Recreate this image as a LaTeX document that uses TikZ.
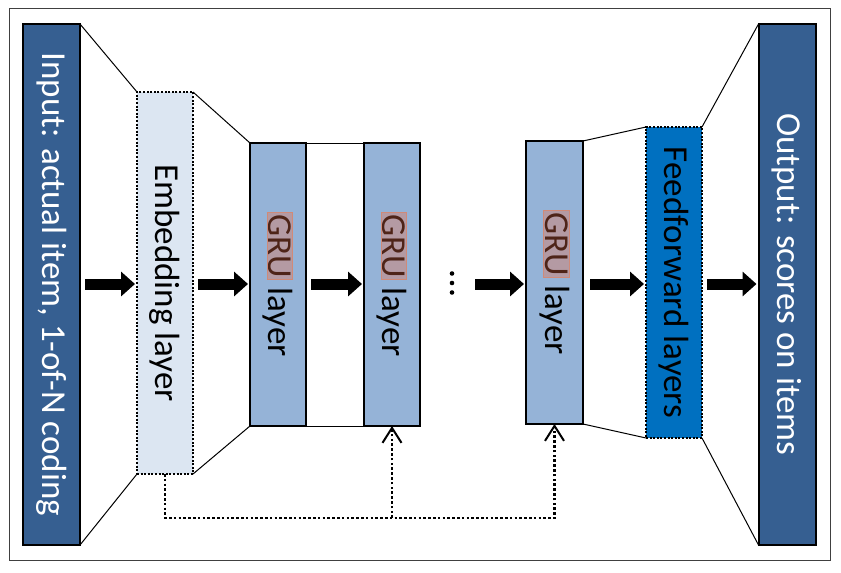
\documentclass[tikz,border=0pt]{standalone}
\usepackage{fontspec}
\setmainfont{Carlito}
\usetikzlibrary{arrows.meta}
\definecolor{iodark}{HTML}{365F91}
\definecolor{embfill}{HTML}{DCE6F2}
\definecolor{grufill}{HTML}{95B3D7}
\definecolor{fffill}{HTML}{0070C0}
\definecolor{hlfill}{HTML}{B49AA3}
\definecolor{hlborder}{HTML}{D08A78}
\definecolor{hltext}{HTML}{4E2418}
\setlength{\fboxsep}{1pt}
\setlength{\fboxrule}{0.8pt}
\newcommand{\gruword}{\fcolorbox{hlborder}{hlfill}{\textcolor{hltext}{GRU}}}
\begin{document}
\begin{tikzpicture}[x=1pt,y=-1pt,
  bar/.style={draw, line width=2pt, inner sep=0pt, outer sep=0pt, minimum width=56pt, font=\fontsize{35}{40}\selectfont},
  dotbar/.style={bar, line width=2pt, dash pattern=on 2pt off 1.6pt},
  blockarrow/.style={line width=11pt, -{Triangle[length=14pt,width=24pt]}, shorten <=5pt, shorten >=2pt},
  feed/.style={line width=2.6pt, dash pattern=on 2.6pt off 2.2pt},
  fan/.style={line width=1pt}]
\useasboundingbox (0,0) rectangle (841,573);
\draw[line width=1pt, black!75] (9,8) rectangle (830,560);

\node[bar, fill=iodark, text=white, minimum width=57pt, minimum height=521pt] (inp) at (51.5,284.5) {\rotatebox{-90}{Input: actual item, 1-of-N coding}};
\node[dotbar, fill=embfill, minimum height=382pt] (emb) at (165,283) {\rotatebox{-90}{Embedding layer}};
\node[bar, fill=grufill, minimum height=283pt] (gruA) at (278,284.5) {\rotatebox{-90}{\gruword{} layer}};
\node[bar, fill=grufill, minimum height=283pt] (gruB) at (392,284.5) {\rotatebox{-90}{\gruword{} layer}};
\node[bar, fill=grufill, minimum width=57pt, minimum height=283pt] (gruC) at (554.5,282.5) {\rotatebox{-90}{\gruword{} layer}};
\node[dotbar, fill=fffill, minimum height=311pt] (ff) at (674,282.5) {\rotatebox{-90}{Feedforward layers}};
\node[bar, fill=iodark, text=white, minimum width=57pt, minimum height=521pt] (out) at (787,284.5) {\rotatebox{-90}{Output: scores on items}};

\draw[fan] (inp.north east) -- (emb.north west);
\draw[fan] (inp.south east) -- (emb.south west);
\draw[fan] (emb.north east) -- (gruA.north west);
\draw[fan] (emb.south east) -- (gruA.south west);
\draw[fan] (gruA.north east) -- (gruB.north west);
\draw[fan] (gruA.south east) -- (gruB.south west);
\draw[fan] (gruC.north east) -- (ff.north west);
\draw[fan] (gruC.south east) -- (ff.south west);
\draw[fan] (ff.north east) -- (out.north west);
\draw[fan] (ff.south east) -- (out.south west);

\coordinate (ay) at (0,284);
\coordinate (dots) at (452,283);
\foreach \dy in {-9.5,0,9.5}
  \fill (dots) ++(0,\dy) circle (2.3);
\draw[blockarrow] (inp.east |- ay) -- (emb.west |- ay);
\draw[blockarrow] (emb.east |- ay) -- (gruA.west |- ay);
\draw[blockarrow] (gruA.east |- ay) -- (gruB.west |- ay);
\draw[blockarrow, shorten <=23pt] (dots |- ay) -- (gruC.west |- ay);
\draw[blockarrow, shorten <=7pt] (gruC.east |- ay) -- (ff.west |- ay);
\draw[blockarrow] (ff.east |- ay) -- (out.west |- ay);

\coordinate (fb) at (0,518);
\draw[feed, -{Straight Barb[length=15pt,width=19pt,line width=2pt]}] (emb.south) |- (fb -| gruC.south) -- (gruC.south);
\draw[feed, -{Straight Barb[length=15pt,width=19pt,line width=2pt]}] (fb -| gruB.south) -- (gruB.south);
\end{tikzpicture}
\end{document}
